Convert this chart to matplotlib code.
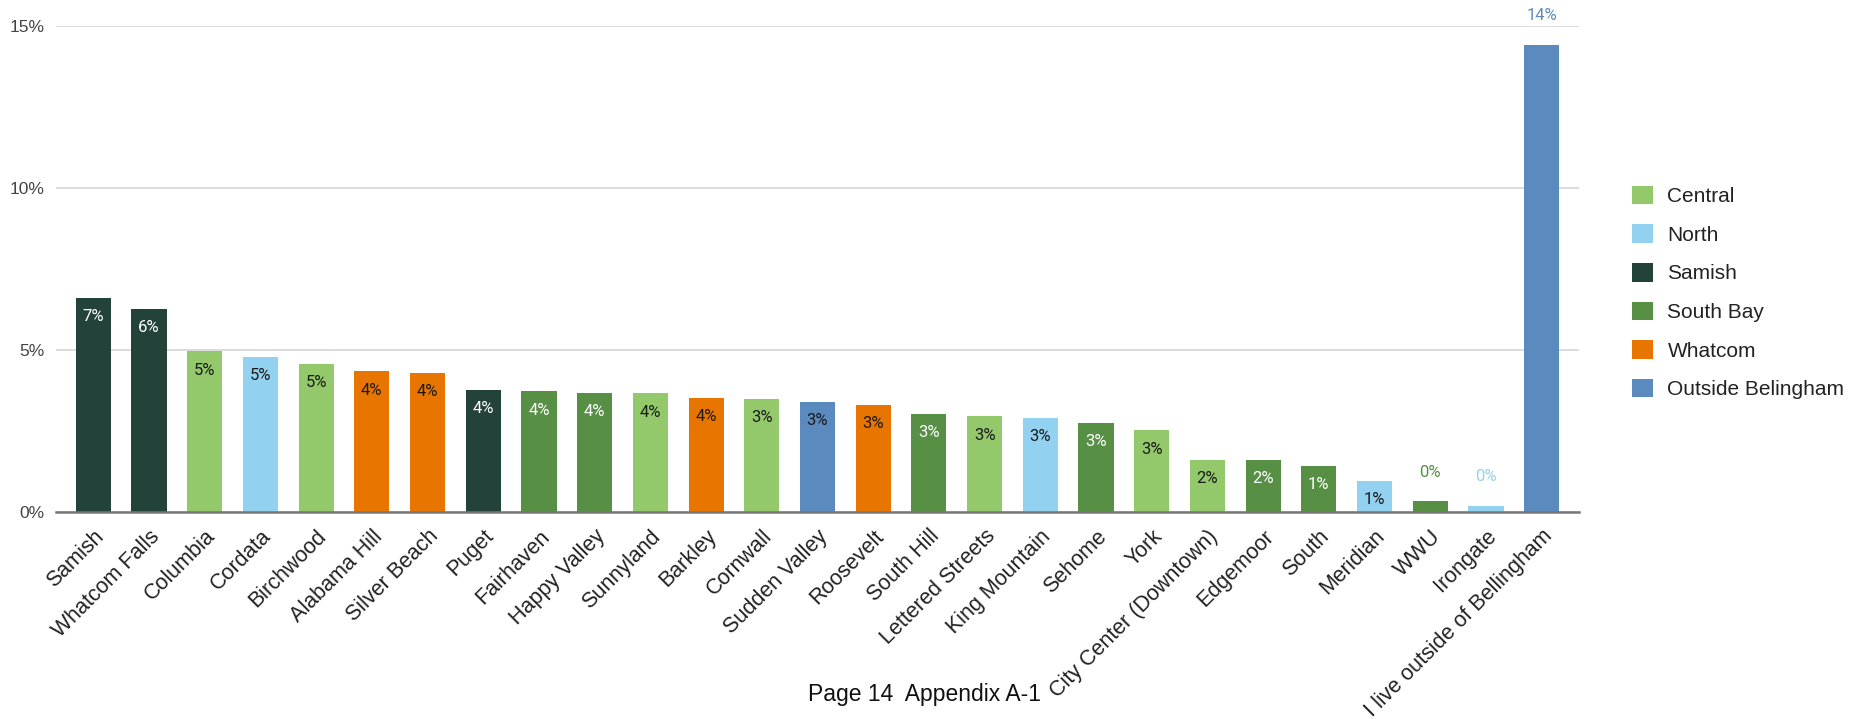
import matplotlib
matplotlib.use("Agg")
import matplotlib.pyplot as plt
from matplotlib.patches import Patch
import numpy as np

categories = ["Samish", "Whatcom Falls", "Columbia", "Cordata", "Birchwood", "Alabama Hill",
              "Silver Beach", "Puget", "Fairhaven", "Happy Valley", "Sunnyland", "Barkley",
              "Cornwall", "Sudden Valley", "Roosevelt", "South Hill", "Lettered Streets",
              "King Mountain", "Sehome", "York", "City Center (Downtown)", "Edgemoor", "South",
              "Meridian", "WWU", "Irongate", "I live outside of Bellingham"]
values = [6.62, 6.28, 4.96, 4.78, 4.58, 4.34, 4.29, 3.77, 3.72, 3.67, 3.66, 3.53,
          3.48, 3.39, 3.30, 3.04, 2.95, 2.91, 2.76, 2.52, 1.61, 1.61, 1.43,
          0.97, 0.33, 0.19, 14.42]
regions = ["Samish", "Samish", "Central", "North", "Central", "Whatcom",
           "Whatcom", "Samish", "South Bay", "South Bay", "Central", "Whatcom",
           "Central", "Outside Belingham", "Whatcom", "South Bay", "Central",
           "North", "South Bay", "Central", "Central", "South Bay", "South Bay",
           "North", "South Bay", "North", "Outside Belingham"]
legend_order = ["Central", "North", "Samish", "South Bay", "Whatcom", "Outside Belingham"]
region_colors = {"Central": "#93c96b", "North": "#93d1f1", "Samish": "#23433a",
                 "South Bay": "#578f45", "Whatcom": "#e87500", "Outside Belingham": "#5b8bbe"}
light_text_regions = {"Samish", "South Bay"}
y_ticks = [0, 5, 10, 15]

plt.rcParams['font.family'] = ['Liberation Sans', 'DejaVu Sans']

fig = plt.figure(figsize=(18.62, 7.19), dpi=100)
ax = fig.add_axes([56/1862, 1-512/719, (1579-56)/1862, (512-26)/719])

x = np.arange(len(categories))
colors = [region_colors[r] for r in regions]
bars = ax.bar(x, values, width=0.63, color=colors, zorder=3)

ax.set_xlim(-0.67, len(categories) - 1 + 0.67)
ax.set_ylim(0, 15)
ax.set_yticks(y_ticks)
ax.set_yticklabels([f"{t}%" for t in y_ticks], fontsize=12.5, color="#444444")
ax.yaxis.grid(True, color="#d9d9d9", linewidth=1.3, zorder=0)
ax.set_axisbelow(True)
for s in ["top", "right", "left"]:
    ax.spines[s].set_visible(False)
ax.spines["bottom"].set_color("#777777")
ax.spines["bottom"].set_linewidth(1.8)
ax.spines["bottom"].set_zorder(4)
ax.tick_params(axis="both", length=0, pad=8)
ax.set_xticks(x)
ax.set_xticklabels(categories, rotation=45, ha="right", rotation_mode="anchor",
                   fontsize=15.5, color="#222222")
ax.tick_params(axis="x", pad=10)

for xi, v, r in zip(x, values, regions):
    lbl = f"{int(round(v))}%"
    if 0.6 < v < 10:
        tc = "#ffffff" if r in light_text_regions else "#1a1a1a"
        ax.annotate(lbl, (xi, v), xytext=(0, -13.5), textcoords="offset points",
                    ha="center", va="center", fontsize=12, color=tc,
                    family=["Roboto", "DejaVu Sans"], zorder=5)
    else:
        ax.annotate(lbl, (xi, v), xytext=(0, 21), textcoords="offset points",
                    ha="center", va="center", fontsize=12, color=region_colors[r],
                    family=["Roboto", "DejaVu Sans"], zorder=5, annotation_clip=False)

handles = [Patch(facecolor=region_colors[k], edgecolor="none", label=k) for k in legend_order]
fig.legend(handles=handles, loc="center left", bbox_to_anchor=(1632/1862, 1-292.5/719),
           frameon=False, fontsize=15, handlelength=1.0, handleheight=1.0,
           handletextpad=0.7, labelspacing=0.87, borderpad=0, borderaxespad=0,
           labelcolor="#222222")

fig.text(925/1862, 1-695/719, "Page 14  Appendix A-1", ha="center", va="center",
         fontsize=16.5, color="#111111")

fig.savefig("out.png", dpi=100)
